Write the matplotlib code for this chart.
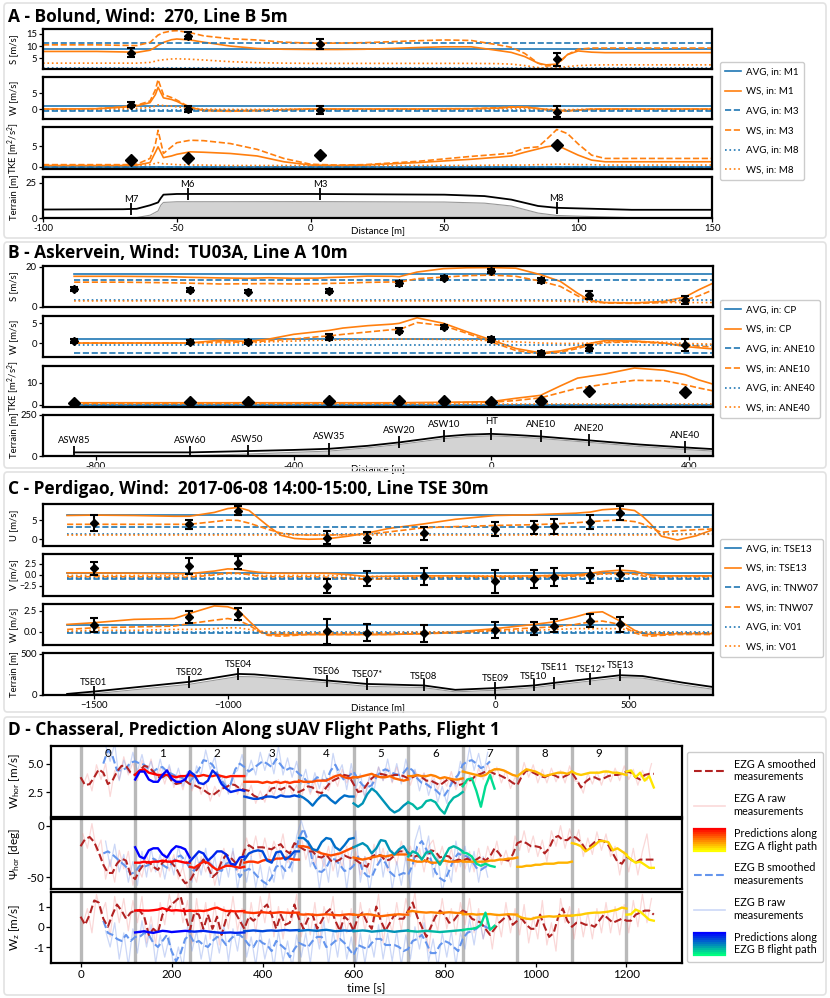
import numpy as np
import matplotlib
matplotlib.use('Agg')
import matplotlib.pyplot as plt
from matplotlib.lines import Line2D
from matplotlib.legend_handler import HandlerBase
from matplotlib.patches import FancyBboxPatch

plt.rcParams['font.family'] = ['Lato', 'DejaVu Sans']
plt.rcParams['mathtext.default'] = 'regular'
plt.rcParams['axes.unicode_minus'] = False

W, H = 830, 998
BLUE, ORANGE = '#1f77b4', '#ff7f0e'

# ---------------- A - Bolund ----------------
xa = [-100, -80, -70, -65, -60, -58, -57, -55, -52, -50, -45, -40, -30, -20, -10, 0, 10, 20, 30, 40,
      50, 60, 70, 75, 80, 85, 88, 92, 96, 100, 105, 110, 120, 130, 150]
a_names = ['M1', 'M3', 'M8']
a_s_avg = [8.6, 11.1, 1.0]
a_s_m1 = [7.8, 7.8, 7.6, 7.4, 8.3, 9.5, 10.3, 11.5, 12.6, 12.9, 12.5, 11.6, 10.0, 9.0, 8.7, 8.6, 8.6, 8.7, 9.0, 9.4,
          9.7, 9.7, 8.2, 7.4, 5.7, 3.0, 2.3, 2.6, 6.5, 8.0, 7.5, 7.3, 7.3, 7.3, 7.3]
a_s_m3 = [10.5, 10.5, 10.3, 10.2, 11.5, 13.5, 14.5, 15.5, 16.2, 16.3, 15.5, 14.2, 13.0, 12.5, 11.6, 11.2, 11.2, 11.4, 11.8, 12.2,
          12.5, 12.3, 10.5, 9.5, 7.0, 3.0, 1.8, 2.2, 6.5, 8.7, 9.2, 9.2, 9.2, 9.2, 9.2]
a_s_m8 = [3.0, 3.0, 3.0, 3.0, 3.3, 3.8, 4.1, 4.4, 4.7, 4.8, 4.6, 4.3, 3.6, 3.2, 3.0, 2.9, 2.9, 2.9, 2.9, 2.9,
          2.9, 2.9, 2.8, 2.6, 2.0, 1.2, 0.9, 1.0, 1.6, 2.0, 2.2, 2.3, 2.3, 2.3, 2.3]
a_w_avg = [1.0, -0.6, -0.3]
a_w_m1 = [0.0, 0.1, 0.6, 1.0, 2.0, 4.5, 6.8, 3.5, 3.0, 2.4, 0.4, -0.3, -0.5, -0.4, -0.2, 0.0, 0.0, 0.0, 0.0, 0.0,
          0.1, 0.1, 0.3, 0.6, 0.6, 0.2, -0.1, -0.3, -0.5, -0.3, -0.1, 0.0, 0.0, 0.0, 0.0]
a_w_m3 = [0.0, 0.1, 0.7, 1.2, 2.5, 6.0, 9.2, 4.5, 3.6, 2.8, 0.5, -0.5, -0.7, -0.5, -0.2, 0.0, 0.0, 0.0, 0.0, 0.0,
          0.1, 0.1, 0.4, 0.7, 0.7, 0.1, -0.2, -0.5, -0.6, -0.3, 0.0, 0.0, 0.0, 0.0, 0.0]
a_w_m8 = [0.0, 0.0, 0.1, 0.2, 0.5, 0.9, 1.3, 1.1, 0.9, 0.7, 0.3, 0.0, -0.1, -0.1, 0.0, 0.0, 0.0, 0.0, 0.0, 0.0,
          0.0, 0.0, 0.1, 0.2, 0.2, 0.1, 0.0, -0.1, -0.2, -0.1, 0.0, 0.0, 0.0, 0.0, 0.0]
a_k_avg = [0.0, -0.1, -0.05]
a_k_m1 = [0.3, 0.3, 0.3, 0.4, 1.0, 3.5, 4.8, 2.2, 2.6, 3.0, 3.6, 3.5, 3.2, 2.6, 1.2, 0.4, 0.3, 0.4, 0.7, 1.0,
          1.4, 1.8, 2.3, 2.6, 3.5, 4.3, 4.8, 5.2, 4.0, 2.8, 1.6, 1.2, 1.2, 1.2, 1.2]
a_k_m3 = [0.5, 0.5, 0.5, 0.6, 2.0, 5.5, 8.8, 3.2, 4.8, 5.8, 6.4, 6.3, 5.6, 4.2, 2.0, 0.6, 0.4, 0.5, 0.9, 1.3,
          1.9, 2.5, 3.0, 3.3, 4.5, 4.8, 6.5, 9.0, 8.0, 5.5, 2.8, 2.0, 2.0, 2.0, 2.0]
a_k_m8 = [0.3, 0.3, 0.3, 0.3, 0.5, 0.8, 1.0, 0.7, 0.6, 0.5, 0.4, 0.4, 0.3, 0.3, 0.3, 0.3, 0.3, 0.3, 0.3, 0.3,
          0.3, 0.3, 0.4, 0.4, 0.4, 0.5, 0.5, 0.6, 0.6, 0.5, 0.5, 0.4, 0.4, 0.4, 0.4]
a_st_x = [-67, -46, 3.5, 92]
a_st_names = ['M7', 'M6', 'M3', 'M8']
a_meas_s = [7.3, 14.2, 10.9, 4.6]
a_err_s = [1.8, 1.5, 1.9, 2.6]
a_meas_w = [1.4, 0.1, -0.3, -0.9]
a_err_w = [0.9, 1.0, 1.3, 1.7]
a_meas_k = [1.6, 2.0, 2.9, 5.3]
a_ter_x = [-100, -70, -65, -60, -57, -56, -55, -50, 0, 50, 65, 75, 85, 92, 100, 120, 150]
a_ter_line = [6.0, 6.2, 6.5, 9.0, 11.0, 14.0, 16.5, 17.0, 17.0, 16.5, 15.5, 13.0, 8.5, 7.2, 6.8, 5.8, 5.8]
a_ter_ground = [0.0, 0.0, 0.3, 2.0, 5.0, 9.0, 11.0, 11.5, 11.6, 11.3, 10.5, 8.5, 3.5, 1.8, 1.3, 0.2, 0.0]

# ---------------- B - Askervein ----------------
xb = [-844, -750, -650, -610, -550, -493, -450, -400, -350, -328, -300, -250, -200, -186, -150, -96, -50, 0, 50, 100,
      140, 175, 199, 230, 290, 350, 393, 420, 449]
b_names = ['CP', 'ANE10', 'ANE40']
b_s_avg = [16.4, 13.3, 3.3]
b_s_cp = [15.2, 15.2, 15.0, 14.7, 14.4, 14.2, 14.5, 14.2, 14.3, 14.6, 14.8, 15.3, 15.2, 15.0, 17.3, 19.0, 19.4, 19.5, 19.2, 16.0,
          12.7, 6.8, 3.4, 2.2, 2.0, 2.8, 5.0, 8.5, 11.8]
b_s_ane10 = [12.3, 12.3, 12.0, 11.8, 11.4, 11.5, 11.6, 11.4, 11.5, 11.7, 11.8, 12.2, 12.4, 12.3, 14.0, 14.8, 15.5, 15.8, 15.2, 12.8,
             10.2, 5.5, 3.0, 2.0, 1.8, 2.2, 3.5, 5.5, 8.5]
b_s_ane40 = [3.0, 3.0, 3.0, 3.0, 3.0, 3.0, 3.0, 3.0, 3.0, 3.0, 3.0, 3.0, 3.0, 3.0, 3.0, 3.0, 3.0, 3.0, 3.0, 3.0,
             2.9, 2.7, 2.4, 2.2, 2.2, 2.2, 2.2, 2.2, 2.2]
b_w_avg = [1.1, -2.46, -0.43]
b_w_cp = [0.0, 0.0, 0.0, 0.0, 0.7, 0.4, 1.0, 2.2, 2.9, 3.2, 3.8, 4.4, 4.8, 5.0, 6.4, 5.0, 2.9, 0.8, -1.4, -2.5,
          -2.0, -1.0, -0.1, 0.6, 0.5, 0.0, -0.9, -1.2, -1.5]
b_w_ane10 = [0.0, 0.0, 0.0, 0.0, 0.3, 0.2, 0.6, 1.0, 1.6, 1.8, 2.2, 2.8, 3.4, 3.4, 5.2, 4.4, 2.5, 0.3, -1.9, -2.7,
             -2.3, -1.4, -0.5, 0.1, 0.3, -0.1, -0.5, -0.8, -1.0]
b_w_ane40 = [0.0, 0.0, 0.0, 0.0, 0.0, 0.0, 0.3, 0.5, 0.7, 0.7, 0.8, 0.9, 1.0, 1.0, 1.0, 0.9, 0.8, 0.6, 0.3, 0.0,
             -0.1, -0.1, 0.0, 0.3, 0.4, 0.2, -0.1, -0.2, -0.3]
b_k_avg = [0.0, -0.3, -0.2]
b_k_cp = [1.0, 1.0, 1.0, 1.0, 1.0, 1.0, 1.0, 1.0, 1.0, 1.0, 1.0, 1.0, 1.0, 1.0, 1.1, 1.2, 1.3, 1.5, 3.0, 4.3,
          8.5, 12.0, 12.8, 13.8, 16.5, 15.5, 13.5, 11.2, 9.3]
b_k_ane10 = [0.8, 0.8, 0.8, 0.8, 0.8, 0.8, 0.8, 0.8, 0.8, 0.8, 0.8, 0.8, 0.8, 0.8, 0.9, 1.0, 1.1, 1.2, 2.0, 3.2,
             5.5, 7.5, 8.2, 9.3, 11.0, 10.8, 9.0, 7.6, 6.3]
b_k_ane40 = [0.4, 0.4, 0.4, 0.4, 0.4, 0.4, 0.4, 0.4, 0.4, 0.4, 0.4, 0.4, 0.4, 0.4, 0.4, 0.4, 0.4, 0.4, 0.4, 0.4,
             0.4, 0.4, 0.4, 0.4, 0.4, 0.4, 0.4, 0.4, 0.4]
b_st_x = [-844, -610, -493, -328, -186, -96, 0, 100, 199, 393]
b_st_names = ['ASW85', 'ASW60', 'ASW50', 'ASW35', 'ASW20', 'ASW10', 'HT', 'ANE10', 'ANE20', 'ANE40']
b_meas_s = [8.7, 8.5, 7.6, 8.0, 11.8, 14.5, 17.7, 13.3, 6.0, 3.5]
b_err_s = [1.0, 1.0, 0.8, 1.0, 1.2, 1.0, 1.0, 1.2, 2.0, 2.0]
b_meas_w = [0.5, 0.2, 0.3, 1.5, 3.1, 4.0, 0.9, -2.5, -1.3, -0.5]
b_err_w = [0.6, 0.5, 0.5, 0.7, 0.6, 0.5, 0.6, 0.6, 0.8, 1.4]
b_meas_k = [1.1, 1.4, 1.4, 1.8, 1.8, 1.6, 1.3, 2.0, 6.1, 5.7]
b_ter_x = [-844, -610, -493, -400, -328, -250, -186, -96, -50, 0, 50, 100, 199, 300, 393, 449]
b_ter_line = [22, 22, 30, 37, 44, 62, 83, 119, 130, 135, 128, 119, 95, 70, 52, 42]
b_ter_ground = [0, 2, 12, 22, 30, 50, 70, 106, 118, 123, 116, 107, 83, 58, 40, 30]

# ---------------- C - Perdigao ----------------
xc = [-1600, -1500, -1350, -1200, -1143, -1050, -1000, -961, -920, -880, -850, -800, -750, -700, -630, -550, -479,
      -400, -268, -150, 0, 144, 219, 300, 355, 400, 466, 520, 550, 580, 620, 680, 750, 813]
c_names = ['TSE13', 'TNW07', 'V01']
c_u_avg = [6.3, 3.1, 1.3]
c_u_tse13 = [6.2, 6.3, 6.2, 6.0, 6.0, 7.0, 8.0, 8.3, 7.5, 5.2, 3.5, 1.0, 0.2, 0.0, 0.1, 0.8, 1.6,
             2.8, 4.0, 5.2, 6.2, 6.4, 6.6, 6.8, 7.1, 7.7, 8.0, 7.5, 6.0, 4.0, 0.8, -0.2, 0.9, 2.5]
c_u_tnw07 = [3.9, 3.9, 3.9, 3.9, 3.9, 4.6, 5.0, 4.9, 4.2, 3.3, 2.6, 1.6, 1.2, 1.1, 1.1, 1.2, 1.3,
             1.9, 3.0, 3.3, 3.6, 3.8, 4.0, 4.3, 4.6, 4.8, 5.0, 4.6, 4.0, 3.0, 1.8, 2.2, 2.5, 2.7]
c_u_v01 = [1.1, 1.1, 1.1, 1.1, 1.1, 1.1, 1.1, 1.1, 1.1, 1.1, 1.1, 1.1, 1.1, 1.1, 1.1, 1.1, 1.1,
           1.1, 1.1, 1.1, 1.1, 1.1, 1.1, 1.1, 1.1, 1.1, 1.1, 1.1, 1.1, 1.1, 1.2, 1.2, 1.3, 1.3]
c_v_avg = [0.45, -1.0, -0.7]
c_v_tse13 = [0.4, 0.4, 0.3, 0.2, 0.2, 0.8, 1.3, 1.2, 0.8, 0.5, 0.4, 0.3, 0.3, 0.3, 0.3, 0.0, -0.5,
             -0.4, -0.3, -0.3, -0.4, -0.3, -0.2, -0.1, 0.3, 0.7, 1.0, 0.8, 0.3, -0.1, -0.3, -0.3, -0.3, -0.3]
c_v_tnw07 = [-0.5, -0.5, -0.5, -0.6, -0.6, -0.1, 0.4, 0.3, 0.0, -0.4, -0.5, -0.5, -0.5, -0.5, -0.6, -0.8, -1.1,
             -0.9, -0.7, -0.6, -0.7, -0.6, -0.5, -0.4, -0.1, 0.2, 0.3, 0.1, -0.3, -0.6, -0.6, -0.5, -0.5, -0.5]
c_v_v01 = [-0.2, -0.2, -0.2, -0.2, -0.2, 0.0, 0.2, 0.2, 0.0, -0.2, -0.2, -0.2, -0.2, -0.2, -0.2, -0.3, -0.4,
           -0.4, -0.3, -0.3, -0.3, -0.3, -0.2, -0.2, 0.0, 0.1, 0.2, 0.1, -0.1, -0.2, -0.3, -0.3, -0.3, -0.3]
c_w_avg = [0.83, -0.15, -0.05]
c_w_tse13 = [0.9, 1.1, 1.5, 1.6, 2.2, 3.1, 3.0, 2.6, 1.3, 0.1, -0.3, -0.3, -0.3, -0.3, -0.3, -0.3, -0.3,
             -0.3, -0.2, 0.0, 0.4, 0.9, 1.2, 1.8, 2.3, 2.4, 1.3, 0.2, -0.2, -0.3, -0.3, -0.2, -0.2, -0.2]
c_w_tnw07 = [0.3, 0.5, 0.6, 0.7, 1.0, 1.4, 1.6, 1.4, 0.8, 0.0, -0.4, -0.5, -0.4, -0.3, -0.3, -0.3, -0.3,
             -0.3, -0.2, -0.1, 0.2, 0.5, 0.6, 0.9, 1.2, 1.3, 0.9, -0.1, -0.4, -0.5, -0.4, -0.3, -0.3, -0.3]
c_w_v01 = [0.1, 0.2, 0.2, 0.3, 0.3, 0.4, 0.5, 0.5, 0.3, 0.1, 0.0, -0.1, -0.1, -0.1, -0.1, -0.1, -0.1,
           -0.1, 0.0, 0.0, 0.1, 0.2, 0.3, 0.4, 0.4, 0.4, 0.4, 0.1, 0.0, -0.1, -0.1, -0.1, -0.1, -0.1]
c_st_x = [-1500, -1143, -961, -630, -479, -268, 0, 144, 219, 355, 466]
c_st_names = ['TSE01', 'TSE02', 'TSE04', 'TSE06', 'TSE07*', 'TSE08', 'TSE09', 'TSE10', 'TSE11', 'TSE12*', 'TSE13']
c_meas_u = [4.2, 3.9, 7.5, 0.4, 0.4, 1.6, 2.7, 3.1, 3.4, 4.5, 6.8]
c_err_u = [2.0, 1.2, 1.1, 1.7, 1.4, 1.7, 1.8, 1.6, 1.9, 1.7, 1.8]
c_meas_v = [1.4, 1.9, 2.7, -2.6, -0.9, -0.4, -1.55, -1.0, -0.6, -0.2, 0.2]
c_err_v = [1.4, 1.8, 1.5, 1.7, 1.7, 2.0, 2.7, 2.1, 2.0, 1.8, 1.7]
c_meas_w = [0.83, 1.8, 2.1, 0.1, -0.1, -0.16, 0.24, 0.36, 0.75, 1.35, 0.9]
c_err_w = [0.8, 0.75, 0.73, 1.5, 1.0, 1.0, 0.95, 0.77, 0.8, 0.8, 0.9]
c_ter_x = [-1600, -1500, -1143, -961, -900, -630, -479, -268, -150, 0, 144, 219, 355, 466, 550, 700, 813]
c_ter_line = [13, 42, 160, 256, 250, 176, 134, 116, 63, 84, 116, 147, 198, 240, 230, 150, 97]
c_ter_ground = [0, 15, 130, 225, 220, 150, 105, 90, 38, 58, 90, 120, 170, 212, 205, 122, 70]

# ---------------- D - Chasseral (10 s steps) ----------------
# smoothed EZG A starts t=0, raw A t=5, smoothed B t=50, raw B t=55
d_a_whor = [3.8, 3.1, 3.2, 3.8, 4.5, 4.2, 3.2, 3.5, 4.3, 4.8, 4.8, 4.2, 4.0, 4.4, 4.8, 4.7, 4.3, 3.8, 3.8, 4.1,
            3.5, 3.2, 3.3, 3.5, 3.2, 3.1, 2.9, 2.7, 2.4, 2.2, 2.5, 2.8, 2.9, 3.2, 3.1, 2.8, 2.7, 2.6, 2.2, 2.0,
            1.9, 2.3, 2.8, 2.9, 2.7, 2.9, 3.0, 2.6, 2.5, 2.7, 3.0, 2.9, 2.5, 2.4, 2.9, 3.4, 3.6, 3.8, 4.0, 3.9,
            3.2, 2.5, 2.6, 3.2, 3.7, 4.0, 4.1, 4.0, 3.9, 4.0, 4.0, 3.9, 3.7, 3.8, 4.0, 3.8, 3.5, 3.5, 3.3, 3.1,
            3.4, 3.7, 3.4, 3.1, 3.2, 3.4, 3.6, 4.0, 4.1, 4.3, 4.3, 4.1, 4.0, 3.8, 3.6, 3.3, 3.1, 3.9, 4.4, 4.3,
            4.1, 3.9, 3.8, 4.0, 4.0, 3.8, 3.8, 4.0, 4.2, 3.6, 2.9, 3.4, 3.7, 3.8, 3.6, 3.7, 3.9, 4.0, 4.0, 4.1,
            4.3, 4.2, 3.8, 3.6, 4.0, 4.1, 4.1]
d_a_whor_raw = [3.0, 4.1, 2.6, 4.9, 3.6, 5.0, 2.1, 4.4, 3.6, 5.6, 4.0, 5.1, 3.5, 5.3, 4.1, 5.4, 3.4, 4.6, 3.2, 4.7,
                2.9, 4.0, 2.7, 4.2, 2.6, 3.7, 2.3, 3.4, 1.7, 3.0, 2.1, 3.5, 2.4, 3.9, 2.3, 3.3, 2.0, 3.1, 1.5, 2.6,
                1.6, 3.0, 2.2, 3.6, 2.1, 3.5, 2.3, 3.1, 1.9, 3.5, 2.3, 3.4, 1.9, 3.0, 2.6, 4.0, 3.0, 4.5, 3.3, 4.4,
                2.0, 3.1, 2.1, 3.9, 3.2, 4.7, 3.5, 4.6, 3.3, 4.7, 3.4, 4.5, 3.1, 4.4, 3.4, 4.2, 2.9, 4.0, 2.7, 3.8,
                3.0, 4.3, 2.7, 3.8, 2.6, 4.0, 3.1, 4.6, 3.6, 5.0, 3.7, 4.7, 3.3, 4.4, 2.8, 3.8, 3.4, 5.1, 3.8, 4.9,
                3.3, 4.5, 3.3, 4.6, 3.4, 4.4, 3.3, 4.8, 3.5, 3.4, 2.4, 4.2, 3.2, 4.3, 3.1, 4.4, 3.4, 4.6, 3.5, 4.8,
                3.6, 4.5, 3.1, 4.4, 3.5, 5.0]
d_b_whor = [5.0, 6.2, 5.7, 4.4, 4.4, 4.6, 5.1, 5.2, 5.0, 4.9, 4.5, 4.3, 4.6, 4.7, 4.3, 4.1, 3.9, 3.8, 3.6, 3.4,
            3.9, 4.5, 5.3, 5.2, 4.9, 4.2, 3.5, 3.0, 3.2, 4.5, 5.0, 4.7, 4.3, 4.6, 4.9, 5.2, 5.0, 4.7, 5.4, 4.9,
            4.4, 4.6, 4.5, 4.1, 3.8, 3.3, 3.4, 3.8, 3.6, 3.5, 4.4, 4.9, 4.1, 3.5, 3.9, 4.3, 3.6, 3.1, 2.9, 3.1,
            3.8, 4.3, 4.5, 4.3, 4.1, 4.0, 4.2, 4.7, 4.4, 3.7, 3.3, 3.2, 2.9, 2.7, 2.3, 2.2, 2.8, 3.6, 4.0, 4.9,
            5.2, 5.3, 5.0, 4.6, 4.8, 5.2]
d_b_whor_raw = [6.6, 5.2, 6.8, 3.5, 5.3, 4.2, 6.0, 4.3, 5.8, 4.0, 5.2, 3.6, 5.4, 3.7, 4.9, 3.2, 4.6, 3.0, 4.3, 2.8,
                4.8, 4.0, 6.2, 4.5, 5.6, 3.3, 3.9, 2.3, 4.1, 4.4, 5.8, 3.9, 5.3, 4.0, 6.0, 4.4, 5.9, 4.1, 6.5, 4.0,
                5.5, 3.8, 5.2, 3.2, 4.5, 2.5, 4.2, 2.8, 4.4, 2.9, 5.9, 4.0, 4.9, 2.7, 5.0, 2.8, 4.1, 2.0, 3.8, 2.6,
                4.7, 3.5, 5.4, 3.4, 5.0, 3.2, 5.4, 3.6, 4.5, 2.6, 4.1, 2.2, 3.6, 1.6, 3.0, 1.5, 3.7, 3.0, 5.2, 4.1,
                6.4, 4.4, 5.9, 4.0, 6.0]
d_a_psi = [-20, -13, -11, -16, -26, -38, -46, -46, -37, -32, -34, -48, -52, -43, -37, -35, -40, -43, -36, -33,
           -36, -41, -50, -56, -54, -46, -40, -33, -40, -50, -46, -35, -28, -31, -36, -39, -24, -19, -22, -21,
           -21, -22, -23, -20, -18, -24, -27, -17, -20, -23, -25, -25, -30, -31, -28, -34, -35, -33, -29, -31,
           -32, -35, -38, -40, -30, -28, -29, -34, -33, -29, -25, -25, -26, -31, -29, -32, -35, -24, -25, -31,
           -29, -30, -35, -33, -34, -32, -35, -33, -30, -34, -30, -22, -27, -33, -34, -28, -17, -15, -17, -20,
           -20, -21, -27, -22, -12, -10, -14, -14, -10, -12, -16, -23, -20, -16, -14, -15, -19, -27, -35, -37,
           -30, -33, -36, -33, -33, -33, -33]
d_a_psi_raw = [-8, -22, 2, -25, -14, -52, -33, -55, -24, -42, -25, -58, -40, -50, -28, -45, -32, -50, -27, -44,
               -28, -52, -40, -62, -44, -55, -30, -45, -32, -58, -38, -22, -40, -25, -45, -28, -12, -30, -10, -32,
               -12, -33, -15, -28, -8, -36, -20, -28, -10, -33, -18, -38, -24, -40, -20, -44, -26, -40, -20, -42,
               -25, -48, -30, -47, -18, -38, -22, -44, -24, -38, -15, -34, -20, -40, -22, -45, -20, -14, -35, -20,
               -40, -22, -45, -25, -42, -25, -45, -22, -42, -20, -35, -15, -38, -24, -40, -10, -24, -5, -26, -10,
               -30, -14, -35, -5, -20, 0, -22, -3, -18, -4, -30, -12, -28, -6, -24, -8, -30, -20, -48, -25,
               -45, -22, -48, -25, -8, -42]
d_b_psi = [-27, -25, -28, -32, -36, -40, -47, -45, -39, -40, -38, -32, -35, -38, -41, -37, -31, -29, -34, -41,
           -44, -37, -33, -35, -39, -43, -44, -37, -35, -40, -50, -44, -42, -45, -50, -54, -57, -50, -40, -38,
           -44, -40, -30, -12, -3, -15, -35, -44, -45, -41, -32, -33, -38, -44, -43, -39, -30, -44, -49, -50,
           -40, -33, -36, -45, -49, -48, -46, -48, -38, -20, -15, -23, -33, -45, -51, -54, -44, -33, -27, -29,
           -30, -34, -41, -43, -40, -38]
d_b_psi_raw = [-15, -40, -18, -45, -28, -55, -35, -58, -25, -50, -22, -45, -28, -52, -30, -48, -20, -40, -25, -55,
               -28, -48, -22, -50, -30, -58, -30, -50, -22, -62, -35, -55, -30, -60, -38, -65, -40, -55, -25, -52,
               -28, -45, -10, 5, -10, -40, -25, -62, -30, -55, -15, -50, -25, -62, -28, -5, -55, -30, -65, -35,
               -15, -50, -25, -62, -35, -58, -30, -60, -15, 0, -30, -10, -50, -30, -65, -40, -55, -15, -40, -20,
               -45, -25, -55, -30, -50]
d_a_wz = [0.5, 0.1, 0.6, 1.3, 1.2, 0.4, 0.0, 0.6, 1.1, 0.8, 0.4, 0.7, 0.8, 0.8, 0.5, -0.4, -0.1, -0.3, 0.6, 0.8,
          1.1, 1.3, 1.5, 0.6, -0.2, 0.7, 0.6, -0.1, 0.6, -0.1, 0.5, -0.4, 0.4, 0.8, 0.7, 0.3, -0.1, 0.5, 0.3, 0.5,
          0.9, 1.1, 0.6, -0.1, 0.6, 0.1, 0.2, 1.1, 0.4, -0.1, 0.4, 0.6, -0.1, 0.3, 0.7, 0.9, 0.3, -0.2, 0.5, 0.3,
          -0.2, 0.5, 0.7, 0.2, -0.1, 1.0, 0.3, -0.2, 0.2, 0.6, 0.4, 0.4, 0.8, 1.2, 0.5, 0.0, -0.5, 0.0, 0.5, 0.8,
          0.6, 0.2, 0.3, 0.6, 0.8, 0.7, 0.4, 0.3, 0.2, -0.1, -0.4, -0.1, 0.2, 0.4, 0.6, 0.1, 0.3, 0.4, 0.1, -0.1,
          -0.1, 0.6, 0.0, -0.5, -0.3, 0.5, 0.9, 0.3, 0.0, 0.2, 0.2, 0.1, 0.1, 0.0, 0.3, 0.6, 0.4, 0.2, 0.3, 0.4,
          0.3, 0.3, 0.6, 0.7, 0.8, 0.8, 0.6]
d_a_wz_raw = [0.1, 0.9, -0.3, 1.6, 0.6, 1.2, -0.5, 1.5, 0.2, 1.4, -0.2, 1.3, 0.2, 1.5, -0.8, 0.5, -0.9, 1.2, 0.1, 1.6,
              0.6, 1.7, 0.2, 1.3, -0.8, 1.4, -0.3, 1.2, -0.6, 1.2, -0.9, 1.0, -0.1, 1.5, -0.2, 0.9, -0.6, 1.2, -0.3, 1.5,
              0.2, 1.7, -0.5, 1.0, -0.6, 0.9, 0.3, 1.6, -0.5, 0.7, -0.4, 1.2, -0.8, 1.0, 0.2, 1.5, -0.7, 0.8, -0.3, 0.9,
              -0.9, 1.2, -0.2, 0.9, 0.2, 1.6, -0.8, 0.7, -0.3, 1.2, -0.2, 1.4, 0.5, 1.7, -0.6, 0.6, -1.2, 0.6, -0.2, 1.4,
              -0.1, 0.9, -0.4, 1.2, 0.1, 1.4, -0.3, 0.9, -0.6, 0.5, -1.1, 0.6, -0.5, 1.2, -0.3, 0.9, -0.4, 1.1, -0.8, 0.5,
              -0.6, 1.3, -0.9, 0.2, -1.2, 1.4, 0.2, 1.0, -0.6, 0.9, -0.5, 0.7, -0.6, 0.9, -0.3, 1.2, -0.3, 1.0, -0.4, 1.1,
              -0.3, 1.3, 0.0, 1.6, 0.2, 1.4]
d_b_wz = [0.3, -0.3, -0.4, -0.6, -0.7, -0.4, -0.7, -0.5, -0.5, -0.3, -0.4, -0.8, -1.0, -0.7, -0.4, -1.2, -1.7, -1.3, -0.6, -0.4,
          -0.8, -0.7, -0.9, -1.0, -0.7, -0.5, -0.6, -0.9, -0.6, -0.4, -0.4, -0.6, -0.9, -1.0, -0.6, -0.8, -0.9, -1.2, -0.7, -0.9,
          -1.1, -1.5, -1.1, -0.8, -0.9, -1.0, -0.7, -0.5, -0.5, -1.0, -0.9, -0.7, -0.6, -0.8, -1.1, -1.4, -0.9, -1.0, -1.1, -0.8,
          -0.6, -0.6, -0.9, -0.9, -0.9, -1.0, -1.2, -1.1, -0.7, -0.6, -0.4, -0.8, -1.3, -1.3, -0.9, -0.7, -0.8, -1.0, -1.2, -0.6,
          -0.3, -0.2, -0.1, 0.1, 0.0, -0.1]
d_b_wz_raw = [-0.2, -1.0, 0.2, -1.6, -0.3, -1.9, -0.1, -1.3, 0.3, -1.0, 0.1, -1.8, -0.4, -1.5, -0.5, -2.0, -1.0, -2.0, 0.0, -1.2,
              -0.2, -1.6, -0.4, -1.8, -0.2, -1.3, 0.1, -1.7, -0.1, -1.2, 0.3, -1.5, -0.5, -1.9, -0.2, -1.6, -0.6, -2.0, -0.2, -1.7,
              -0.7, -2.0, -0.4, -1.5, -0.3, -1.8, 0.1, -1.1, 0.3, -1.9, -0.2, -1.5, 0.2, -1.6, -0.5, -2.0, -0.3, -1.8, -0.4, -1.5,
              0.1, -1.6, -0.3, -1.7, -0.2, -1.9, -0.4, -1.6, 0.0, -1.1, 0.2, -1.7, -0.6, -2.0, -0.3, -1.5, -0.2, -1.9, -0.3, -1.1,
              0.4, -0.9, 0.6, -0.6, 0.4]

# predictions along flight paths, one list per 120 s leg (legs 1..10 for A, 1..7 for B)
pa_whor = [[4.0, 4.4, 4.5, 4.2, 4.1, 4.0, 4.0, 4.0, 3.9, 3.8, 3.9, 3.9, 4.0],
           [4.0, 3.9, 3.9, 4.0, 3.9, 3.9, 4.0, 3.9, 3.8, 3.9, 3.9, 3.9, 3.9],
           [3.4, 3.4, 3.4, 3.4, 3.3, 3.4, 3.3, 3.4, 3.3, 3.4, 3.3, 3.4, 3.4],
           [3.5, 3.4, 3.4, 3.4, 3.5, 3.5, 3.5, 3.7, 3.9, 4.0, 3.8, 3.7, 3.8],
           [3.8, 3.8, 3.9, 4.0, 4.1, 3.9, 3.8, 3.8, 3.9, 3.7, 3.6, 3.5, 3.6],
           [3.9, 3.9, 4.0, 3.9, 3.9, 4.0, 3.9, 3.7, 3.8, 3.7, 3.6, 3.6, 3.7],
           [4.3, 4.2, 4.1, 4.0, 3.9, 4.0, 4.3, 4.5, 4.5, 4.4, 4.2, 4.0, 3.9],
           [3.9, 4.2, 4.5, 4.4, 4.3, 4.1, 3.9, 4.0, 4.1, 4.2, 4.2, 4.1, 4.3],
           [4.3, 4.1, 4.0, 4.1, 4.2, 4.2, 4.2, 4.3, 4.3, 4.2, 4.2, 4.1, 4.0],
           [4.3, 4.4, 3.8, 4.2, 3.5, 3.9, 2.9]]
pb_whor = [[3.6, 4.3, 4.3, 3.6, 3.4, 3.4, 4.0, 4.4, 3.7, 3.4, 3.4, 3.6, 4.3],
           [4.3, 4.0, 3.3, 3.2, 3.5, 4.4, 4.0, 3.2, 2.8, 2.5, 2.6, 2.7, 2.6],
           [2.1, 2.0, 1.9, 1.9, 2.0, 2.1, 2.1, 2.0, 2.2, 2.1, 2.1, 2.2, 2.1],
           [2.2, 2.0, 1.7, 1.3, 1.8, 2.2, 2.2, 1.8, 1.5, 1.9, 2.2, 2.1, 2.1],
           [1.5, 1.2, 1.5, 2.3, 2.8, 2.5, 2.0, 1.5, 1.0, 0.7, 0.9, 1.3, 1.6],
           [1.6, 1.4, 1.0, 1.2, 1.7, 1.8, 1.6, 1.0, 0.6, 1.5, 2.0, 2.2, 2.5],
           [3.0, 3.6, 3.7, 2.6, 1.2, 3.0, 4.0, 2.8]]
pa_psi = [[-36, -36, -35, -36, -35, -35, -34, -35, -35, -34, -35, -36, -36],
          [-40, -41, -38, -35, -36, -40, -43, -41, -39, -39, -40, -41, -40],
          [-36, -35, -35, -36, -34, -33, -34, -32, -32, -31, -32, -33, -33],
          [-20, -20, -21, -23, -25, -27, -28, -29, -28, -27, -25, -23, -21],
          [-31, -32, -33, -32, -31, -30, -29, -30, -29, -28, -28, -28, -28],
          [-33, -34, -35, -35, -34, -36, -36, -35, -34, -35, -35, -35, -34],
          [-35, -35, -35, -35, -35, -35, -34, -34, -33, -33, -32, -32, -31],
          [-40, -40, -39, -39, -38, -38, -37, -37, -37, -36, -36, -36, -35],
          [-17, -18, -20, -25, -22, -19, -15, -15, -16, -24, -22, -25, -28],
          [-29, -33, -36, -35, -38, -41, -41]]
pb_psi = [[-21, -30, -32, -24, -22, -22, -28, -31, -24, -20, -21, -23, -31],
          [-35, -30, -25, -27, -34, -30, -25, -25, -28, -37, -38, -31, -30],
          [-33, -27, -25, -24, -25, -34, -36, -26, -25, -33, -30, -25, -25],
          [-12, -12, -16, -23, -24, -16, -12, -13, -21, -24, -19, -13, -12],
          [-21, -19, -17, -20, -27, -22, -14, -15, -24, -28, -23, -20, -27],
          [-30, -25, -27, -33, -26, -25, -32, -38, -30, -22, -20, -22, -25],
          [-26, -27, -30, -37, -39, -37, -39, -40]]
pa_wz = [[0.80, 0.82, 0.80, 0.80, 0.82, 0.85, 0.92, 0.85, 0.80, 0.82, 0.80, 0.78, 0.80],
         [0.80, 0.78, 0.80, 0.78, 0.82, 0.90, 0.95, 0.85, 0.78, 0.78, 0.76, 0.77, 0.78],
         [0.72, 0.70, 0.68, 0.70, 0.72, 0.70, 0.68, 0.70, 0.72, 0.70, 0.69, 0.70, 0.70],
         [0.62, 0.60, 0.62, 0.60, 0.58, 0.60, 0.62, 0.60, 0.58, 0.57, 0.60, 0.62, 0.60],
         [0.60, 0.58, 0.60, 0.62, 0.60, 0.55, 0.52, 0.55, 0.58, 0.60, 0.62, 0.60, 0.60],
         [0.75, 0.78, 0.74, 0.72, 0.70, 0.72, 0.70, 0.68, 0.70, 0.72, 0.70, 0.68, 0.70],
         [0.62, 0.62, 0.63, 0.60, 0.62, 0.62, 0.63, 0.60, 0.58, 0.60, 0.62, 0.61, 0.60],
         [0.55, 0.45, 0.40, 0.38, 0.45, 0.48, 0.50, 0.52, 0.50, 0.52, 0.55, 0.55, 0.55],
         [0.55, 0.58, 0.60, 0.65, 0.68, 0.70, 0.70, 0.72, 0.75, 0.80, 0.85, 0.95, 0.90],
         [0.60, 0.62, 0.85, 0.75, 0.55, 0.35, 0.30]]
pb_wz = [[-0.28, -0.25, -0.22, -0.27, -0.30, -0.25, -0.20, -0.22, -0.26, -0.24, -0.22, -0.20, -0.22],
         [-0.22, -0.24, -0.22, -0.20, -0.23, -0.26, -0.28, -0.30, -0.29, -0.28, -0.30, -0.29, -0.28],
         [-0.22, -0.20, -0.18, -0.20, -0.22, -0.19, -0.18, -0.20, -0.18, -0.16, -0.18, -0.17, -0.16],
         [-0.20, -0.18, -0.16, -0.18, -0.20, -0.17, -0.15, -0.18, -0.22, -0.20, -0.18, -0.20, -0.18],
         [-0.22, -0.20, -0.18, -0.20, -0.24, -0.22, -0.20, -0.18, -0.22, -0.25, -0.22, -0.20, -0.18],
         [-0.20, -0.22, -0.24, -0.22, -0.20, -0.22, -0.24, -0.26, -0.24, -0.22, -0.20, -0.18, -0.16],
         [-0.16, -0.12, -0.10, -0.05, 0.10, 0.70, -0.15, 0.05]]
leg_bounds = [0, 120, 240, 360, 480, 600, 720, 840, 960, 1080, 1200]


fig = plt.figure(figsize=(8.3, 9.98), dpi=100)


def add_ax(x0, y0, x1, y1):
    return fig.add_axes([x0 / W, 1 - y1 / H, (x1 - x0) / W, (y1 - y0) / H])


def frame(y0, y1, title, ty):
    fig.patches.append(FancyBboxPatch((4 / W, 1 - y1 / H), 822 / W, (y1 - y0) / H,
                                      boxstyle='round,pad=0,rounding_size=0.004',
                                      transform=fig.transFigure, fc='none', ec='#e2e2e2', lw=1.2))
    fig.text(8 / W, 1 - ty / H, title, fontsize=12.5, fontweight='bold', va='center',
             family=['Open Sans', 'DejaVu Sans'])


def style(ax, fs=6.8):
    for s in ax.spines.values():
        s.set_linewidth(1.6)
    ax.tick_params(labelsize=fs, length=3, width=0.9, pad=1.5)


def ylab(ax, text, xc, fs):
    b = ax.get_position()
    fig.text(xc / W, (b.y0 + b.y1) / 2, text, rotation=90, ha='center', va='center', fontsize=fs)


LS = ['-', '--', ':']


def profile(ax, x, avg, ws, names, xm, ym, err, lab, ylim, yt, ytl=None):
    for a, w, ls, n in zip(avg, ws, LS, names):
        ax.plot([x[0], x[-1]], [a, a], color=BLUE, ls=ls, lw=1.2, label=f'AVG, in: {n}')
        ax.plot(x, w, color=ORANGE, ls=ls, lw=1.2, label=f'WS, in: {n}')
    if err is None:
        ax.plot(xm, ym, 'D', color='k', ms=6.5, zorder=5)
    else:
        ax.errorbar(xm, ym, yerr=err, fmt='D', color='k', ms=4.5, capsize=3,
                    elinewidth=1.5, capthick=1.5, zorder=5)
    ax.set_ylim(*ylim)
    ax.set_yticks(yt)
    if ytl is not None:
        ax.set_yticklabels(ytl)
    ax.set_xticks([])
    ylab(ax, lab, 13.5, 6.8)
    style(ax)


def terrain(ax, x, line, ground, st_x, st_names, offs, ylim, yt, xt, xtl):
    ax.fill_between(x, ground, 0, color='#d3d3d3', lw=0)
    ax.plot(x, ground, color='#999999', lw=0.8)
    ax.plot(x, line, color='k', lw=1.3)
    hy = np.interp(st_x, x, line)
    ax.plot(st_x, hy, ls='none', marker='|', ms=8, mew=1.3, color='k')
    for xs, h, n, o in zip(st_x, hy, st_names, offs):
        ax.annotate(n, (xs, h), xytext=(0, o), textcoords='offset points',
                    ha='center', va='bottom', fontsize=6.8)
    ax.set_ylim(*ylim)
    ax.set_yticks(yt)
    ax.set_xticks(xt)
    ax.set_xticklabels(xtl)
    ylab(ax, 'Terrain [m]', 13.5, 6.8)
    ax.annotate('Distance [m]', (0.5, 0), xycoords='axes fraction', xytext=(0, -13),
                textcoords='offset pixels', ha='center', va='center', fontsize=7)
    style(ax)


def side_legend(ax, y0):
    h, l = ax.get_legend_handles_labels()
    fig.legend(h, l, loc='upper left', bbox_to_anchor=(720 / W, 1 - y0 / H), fontsize=7.0,
               handlelength=1.6, handletextpad=0.5, labelspacing=1.1, borderpad=0.55,
               borderaxespad=0, edgecolor='#cccccc', framealpha=1)


# ---- panel A ----
frame(3, 238, 'A - Bolund, Wind:  270, Line B 5m', 17)
axs = [add_ax(43, 29, 712, 69), add_ax(43, 77, 712, 119), add_ax(43, 127, 712, 169), add_ax(43, 177, 712, 218)]
for ax in axs:
    ax.set_xlim(-100, 150)
profile(axs[0], xa, a_s_avg, [a_s_m1, a_s_m3, a_s_m8], a_names, a_st_x, a_meas_s, a_err_s,
        'S [m/s]', (0.6, 17), [5, 10, 15])
profile(axs[1], xa, a_w_avg, [a_w_m1, a_w_m3, a_w_m8], a_names, a_st_x, a_meas_w, a_err_w,
        'W [m/s]', (-3.1, 10), [0, 5])
profile(axs[2], xa, a_k_avg, [a_k_m1, a_k_m3, a_k_m8], a_names, a_st_x, a_meas_k, None,
        'TKE [m$^2$/s$^2$]', (-0.55, 9.6), [0, 5])
terrain(axs[3], a_ter_x, a_ter_line, a_ter_ground, a_st_x, a_st_names, [3.3] * 4, (0, 29), [0, 25],
        [-100, -50, 0, 50, 100, 150], ['-100', '-50', '0', '50', '100', '150'])
side_legend(axs[0], 62)

# ---- panel B ----
frame(242, 468, 'B - Askervein, Wind:  TU03A, Line A 10m', 253)
axs = [add_ax(43, 266, 713, 307), add_ax(43, 316, 713, 357), add_ax(43, 366, 713, 407), add_ax(43, 415, 713, 456)]
for ax in axs:
    ax.set_xlim(-907, 449)
profile(axs[0], xb, b_s_avg, [b_s_cp, b_s_ane10, b_s_ane40], b_names, b_st_x, b_meas_s, b_err_s,
        'S [m/s]', (0, 20.3), [0, 20])
profile(axs[1], xb, b_w_avg, [b_w_cp, b_w_ane10, b_w_ane40], b_names, b_st_x, b_meas_w, b_err_w,
        'W [m/s]', (-3.55, 6.86), [0, 5])
profile(axs[2], xb, b_k_avg, [b_k_cp, b_k_ane10, b_k_ane40], b_names, b_st_x, b_meas_k, None,
        'TKE [m$^2$/s$^2$]', (-0.9, 17.4), [0, 10])
terrain(axs[3], b_ter_x, b_ter_line, b_ter_ground, b_st_x, b_st_names, [5.3] * 10, (0, 250), [0, 250],
        [-800, -400, 0, 400], ['-800', '-400', '0', '400'])
side_legend(axs[0], 300)

# ---- panel C ----
frame(472, 712, 'C - Perdigao, Wind:  2017-06-08 14:00-15:00, Line TSE 30m', 489)
axs = [add_ax(43, 504, 713, 546), add_ax(43, 554, 713, 596), add_ax(43, 604, 713, 645), add_ax(43, 653, 713, 695)]
for ax in axs:
    ax.set_xlim(-1690, 813)
profile(axs[0], xc, c_u_avg, [c_u_tse13, c_u_tnw07, c_u_v01], c_names, c_st_x, c_meas_u, c_err_u,
        'U [m/s]', (-1.76, 9.2), [0, 5])
profile(axs[1], xc, c_v_avg, [c_v_tse13, c_v_tnw07, c_v_v01], c_names, c_st_x, c_meas_v, c_err_v,
        'V [m/s]', (-4.9, 4.7), [-2.5, 0, 2.5], ['\u22122.5', '0.0', '2.5'])
axs[1].tick_params(axis='y', labelsize=6.3)
profile(axs[2], xc, c_w_avg, [c_w_tse13, c_w_tnw07, c_w_v01], c_names, c_st_x, c_meas_w, c_err_w,
        'W [m/s]', (-1.55, 3.33), [0, 2.5], ['0.0', '2.5'])
c_offs = [3.5, 3.5, 3.5, 3.5, 3.5, 3.5, 3.5, 3.0, 8.2, 3.5, 3.5]
terrain(axs[3], c_ter_x, c_ter_line, c_ter_ground, c_st_x, c_st_names, c_offs, (0, 510), [0, 500],
        [-1500, -1000, 0, 500], ['\u22121500', '\u22121000', '0', '500'])
side_legend(axs[0], 539)

# ---- panel D ----
frame(717, 995, 'D - Chasseral, Prediction Along sUAV Flight Paths, Flight 1', 730)
ax_wh = add_ax(51, 746, 682, 817)
ax_ps = add_ax(51, 819, 682, 889)
ax_wz = add_ax(51, 892, 682, 963)
cols_a = plt.cm.autumn(np.linspace(0, 0.9, 10))
cols_b = plt.cm.winter(np.linspace(0, 0.86, 7))
RAW_A, RAW_B = '#f08080', '#6d8fe8'

rows = [(ax_wh, d_a_whor, d_a_whor_raw, d_b_whor, d_b_whor_raw, pa_whor, pb_whor,
         'W$_{hor}$ [m/s]', (0.3, 6.55), [2.5, 5.0], ['2.5', '5.0']),
        (ax_ps, d_a_psi, d_a_psi_raw, d_b_psi, d_b_psi_raw, pa_psi, pb_psi,
         '\u03a8$_{hor}$ [deg]', (-61.6, 6.5), [-50, 0], ['-50', '0']),
        (ax_wz, d_a_wz, d_a_wz_raw, d_b_wz, d_b_wz_raw, pa_wz, pb_wz,
         'W$_z$ [m/s]', (-1.79, 1.72), [-1, 0, 1], ['-1', '0', '1'])]
for ax, a_s, a_r, b_s, b_r, pa, pb, lab, yl, yt, ytl in rows:
    for tb in leg_bounds:
        ax.axvline(tb, color='#a8a8a8', lw=2.4, alpha=0.8, zorder=0)
    ax.plot(5 + 10 * np.arange(len(a_r)), a_r, color=RAW_A, alpha=0.3, lw=0.9, zorder=1)
    ax.plot(55 + 10 * np.arange(len(b_r)), b_r, color=RAW_B, alpha=0.35, lw=0.9, zorder=1)
    ax.plot(50 + 10 * np.arange(len(b_s)), b_s, color='cornflowerblue', ls='--', lw=1.5, zorder=2)
    ax.plot(10 * np.arange(len(a_s)), a_s, color='#b22222', ls='--', lw=1.5, zorder=3)
    for k, seg in enumerate(pa):
        ax.plot(120 * (k + 1) + 10 * np.arange(len(seg)), seg, color=cols_a[k], lw=1.7, zorder=4)
    for k, seg in enumerate(pb):
        ax.plot(120 * (k + 1) + 10 * np.arange(len(seg)), seg, color=cols_b[k], lw=1.7, zorder=4)
    ax.set_xlim(-65, 1322)
    ax.set_ylim(*yl)
    ax.set_yticks(yt)
    ax.set_yticklabels(ytl)
    ylab(ax, lab, 15, 8.5)
    style(ax, fs=8.3)
    ax.tick_params(axis='y', length=3.5)
ax_wh.set_xticks([])
ax_ps.set_xticks([])
ax_wz.set_xticks([0, 200, 400, 600, 800, 1000, 1200])
ax_wz.annotate('time [s]', (0.5, 0), xycoords='axes fraction', xytext=(0, -25),
               textcoords='offset pixels', ha='center', va='center', fontsize=8.5)
for k in range(10):
    ax_wh.text(60 + 120 * k, 5.88, str(k), ha='center', va='center', fontsize=8.3)


class Grad:
    def __init__(self, cmap):
        self.cmap = cmap


class GradHandler(HandlerBase):
    def create_artists(self, legend, orig_handle, xdescent, ydescent, width, height, fontsize, trans):
        cols = orig_handle.cmap(np.linspace(0, 1, 12))
        yc = height / 2 - ydescent
        ys = np.linspace(yc + 1.45 * height, yc - 1.45 * height, 12)
        return [Line2D([-xdescent, width - xdescent], [y, y], color=c, lw=1.6, transform=trans)
                for y, c in zip(ys, cols)]


d_handles = [Line2D([], [], color='#b22222', ls='--', lw=1.5),
             Line2D([], [], color=RAW_A, alpha=0.3, lw=1.2),
             Grad(plt.cm.autumn),
             Line2D([], [], color='cornflowerblue', ls='--', lw=1.5),
             Line2D([], [], color=RAW_B, alpha=0.35, lw=1.2),
             Grad(plt.cm.winter)]
d_labels = ['EZG A smoothed\nmeasurements', 'EZG A raw\nmeasurements', 'Predictions along\nEZG A flight path',
            'EZG B smoothed\nmeasurements', 'EZG B raw\nmeasurements', 'Predictions along\nEZG B flight path']
fig.legend(d_handles, d_labels, handler_map={Grad: GradHandler()}, loc='upper left',
           bbox_to_anchor=(687 / W, 1 - 752 / H), fontsize=7.8, handlelength=2.9, handletextpad=0.8,
           labelspacing=1.0, borderpad=0.6, borderaxespad=0, edgecolor='#cccccc', framealpha=1)

fig.savefig('out.png', dpi=100)
